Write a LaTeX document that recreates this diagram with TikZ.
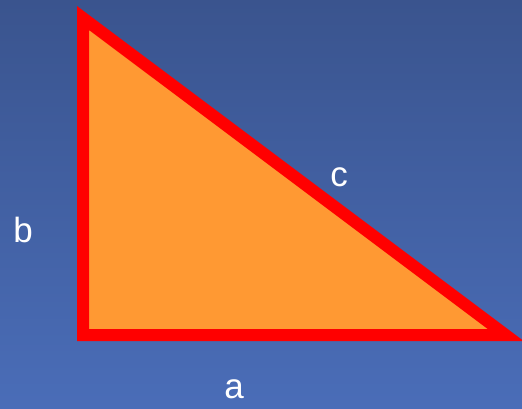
\documentclass[tikz,border=0pt]{standalone}
\usepackage{fontspec}
\setmainfont{Liberation Sans}
\usepackage{tikz}

\definecolor{bgtop}{RGB}{58,84,142}
\definecolor{bgbot}{RGB}{74,109,184}
\definecolor{legfill}{RGB}{255,153,51}
\definecolor{legline}{RGB}{255,0,0}

\begin{document}
\begin{tikzpicture}[x=1bp,y=-1bp]

\useasboundingbox (0,0) rectangle (522,408);
\clip (0,0) rectangle (522,408);
\shade[top color=bgtop,bottom color=bgbot] (0,0) rectangle (522,408);

\coordinate (T) at (83,18);
\coordinate (O) at (83,335);
\coordinate (R) at (505.7,335);

% the triangle
\draw[line width=12bp,legline,fill=legfill,miter limit=20] (T) -- (O) -- (R) -- cycle;

\node[anchor=base,text=white,font=\fontsize{35bp}{42bp}\selectfont] (labA) at (234,398) {a};
\node[anchor=base,text=white,font=\fontsize{35bp}{42bp}\selectfont] (labB) at (23,242) {b};
\node[anchor=base,text=white,font=\fontsize{35bp}{42bp}\selectfont] (labC) at (339,186) {c};

\end{tikzpicture}
\end{document}
